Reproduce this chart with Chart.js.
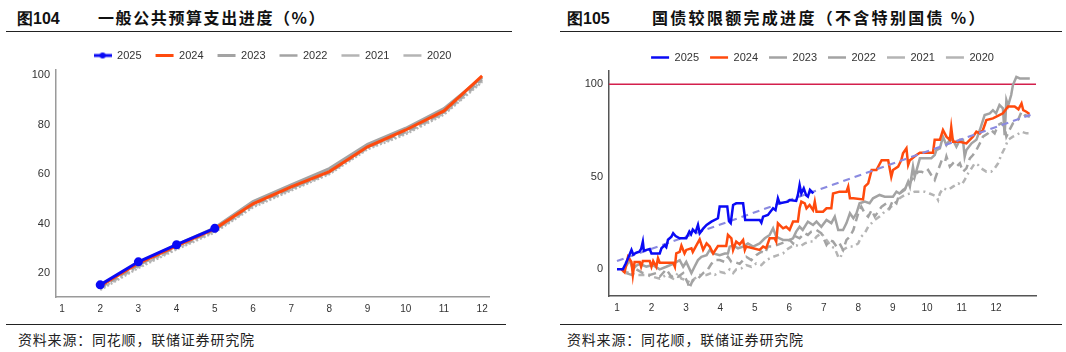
<!DOCTYPE html>
<html>
<head>
<meta charset="utf-8">
<script src="https://cdn.jsdelivr.net/npm/chart.js@4.4.0/dist/chart.umd.min.js"></script>
<style>
  body { margin: 0; width: 1066px; height: 352px; background: #fff; position: relative; overflow: hidden; font-family: "Noto Sans CJK SC", sans-serif; }
  .ttl { position: absolute; top: 5px; font-size: 16px; font-weight: 700; color: #111; white-space: nowrap; }
  .ttl .no { font-family: Arial, "Liberation Sans", sans-serif; display: inline-block; }
  .rule { position: absolute; height: 0; border-top: 1.5px solid #222; }
  .src { position: absolute; top: 329px; font-size: 14px; color: #222; letter-spacing: 0.8px; white-space: nowrap; }
  canvas { position: absolute; }
</style>
</head>
<body>
<div class="ttl" style="left:17px"><span class="no">图104</span><span style="position:absolute;left:81px;letter-spacing:1.6px">一般公共预算支出进度（%）</span></div>
<div class="rule" style="left:6px;width:506px;top:31px"></div>
<div class="ttl" style="left:567px"><span class="no">图105</span><span style="position:absolute;left:85px;letter-spacing:2.3px">国债较限额完成进度（不含特别国债 %）</span></div>
<div class="rule" style="left:560px;width:502px;top:31px"></div>
<div class="rule" style="left:6px;width:500px;top:324px"></div>
<div class="rule" style="left:560px;width:502px;top:324px"></div>
<div class="src" style="left:18px">资料来源：同花顺，联储证券研究院</div>
<div class="src" style="left:567px">资料来源：同花顺，联储证券研究院</div>

<canvas id="chartBudget" style="left:0px;top:36px" width="500" height="279"></canvas>
<canvas id="chartDebt" style="left:560px;top:41px" width="486" height="273"></canvas>

<script>
// ─── DATA: 图104 一般公共预算支出进度 ─────────────────────
const months = [1, 2, 3, 4, 5, 6, 7, 8, 9, 10, 11, 12];
const budgetMonths = [2, 3, 4, 5, 6, 7, 8, 9, 10, 11, 12];
const b2025 = [15.3, 24.6, 31.5, 38.1];
const b2024 = [14.9, 24.0, 31.0, 37.9, 48.0, 54.8, 61.0, 71.0, 77.8, 85.5, 99.6];
const b2023 = [15.0, 24.2, 31.4, 38.3, 48.9, 55.6, 62.2, 72.0, 78.5, 86.4, 99.0];
const b2022 = [14.2, 23.2, 30.6, 37.3, 47.6, 54.2, 60.8, 71.0, 77.0, 85.0, 98.2];
const b2021 = [13.8, 22.6, 30.1, 36.9, 47.1, 53.8, 60.4, 70.5, 76.6, 84.5, 97.6];
const b2020 = [13.3, 22.1, 29.6, 36.5, 46.6, 53.4, 60.0, 70.0, 76.1, 84.0, 97.2];
const budgetTicks = [20, 40, 60, 80, 100];

// ─── DATA: 图105 国债较限额完成进度 ([月份, %]) ───────────
const d2025 = [[1,0],[1.17,0],[1.25,3],[1.32,6],[1.42,10.5],[1.47,8],[1.56,9],[1.65,9.5],[1.7,11],[1.75,15],[1.78,10],[1.86,10.5],[1.95,11],[2.0,8.6],[2.24,8.6],[2.29,11.4],[2.38,13],[2.43,12],[2.48,16],[2.58,17.7],[2.63,19.5],[2.7,18],[2.82,16.8],[3.01,16.8],[3.1,20.4],[3.15,19],[3.2,21.5],[3.28,20],[3.35,24],[3.4,19.5],[3.5,22],[3.6,24],[3.74,25.8],[3.93,27.6],[3.98,34],[4.2,34],[4.25,26],[4.3,25],[4.37,34.8],[4.46,35.7],[4.66,35.7],[4.72,26.7],[5.14,26.7],[5.19,25.2],[5.24,28.5],[5.38,29.4],[5.53,33],[5.6,32],[5.67,38.4],[5.72,35.7],[5.96,36.6],[6.01,37.5],[6.2,37],[6.25,40.2],[6.3,45.6],[6.35,41],[6.42,43.8],[6.49,40],[6.54,39.3],[6.6,42.9],[6.7,41]];
const d2024 = [[1.13,0],[1.22,-1.6],[1.32,6.8],[1.42,4],[1.46,-3],[1.51,4],[1.66,4],[1.7,1.4],[1.75,4.5],[1.95,4.5],[2.0,1.4],[2.05,4.5],[2.14,1.4],[2.19,6],[2.24,3.6],[2.63,3.6],[2.68,1.4],[2.72,8.6],[2.82,9.5],[2.87,12.8],[2.96,8.6],[3.01,10.5],[3.16,11.4],[3.2,9.4],[3.3,12.8],[3.4,16.2],[3.5,10.5],[3.6,14],[3.69,12.3],[3.79,8.6],[3.93,12.6],[4.17,12.6],[4.22,18.6],[4.32,16.8],[4.37,10.5],[4.46,15],[4.56,13.5],[4.66,15.9],[4.71,10.5],[4.75,12.3],[5.14,10.5],[5.24,12.3],[5.33,11.5],[5.43,16.8],[5.57,16.8],[5.62,15],[5.67,24.9],[5.82,22.2],[5.91,23],[6.01,21.3],[6.11,25.8],[6.25,25.8],[6.3,33],[6.35,36.6],[6.45,35.7],[6.5,33],[6.59,34.8],[6.69,32],[6.74,36.6],[6.79,31.2],[6.98,31.2],[7.08,33],[7.22,33],[7.27,41],[7.46,42],[7.66,42],[7.71,44.7],[7.76,38.4],[7.86,38.4],[8.14,37.8],[8.19,44.7],[8.29,46.5],[8.39,53.7],[8.53,53.7],[8.68,59],[8.87,59],[8.96,50],[9.01,53.7],[9.16,55.5],[9.25,59],[9.3,62.7],[9.4,65.4],[9.45,56.4],[9.5,59],[9.69,61.8],[9.79,63],[10.17,63],[10.22,70],[10.37,70],[10.46,75.3],[10.56,71.7],[10.66,70],[10.7,76.8],[10.75,69],[10.95,69],[11.14,68.1],[11.24,70],[11.33,71.7],[11.43,74.4],[11.53,73.5],[11.62,75.3],[11.72,80.7],[11.91,81.6],[12.01,82.5],[12.2,84.3],[12.35,88],[12.54,88],[12.65,86.5],[12.74,89.7],[12.79,86],[12.88,85.2],[12.97,84]];
const d2023 = [[1.17,0],[1.27,2],[1.37,5],[1.46,0],[1.56,2],[1.66,3],[1.85,1.5],[2.04,2.3],[2.24,0],[2.43,1.4],[2.63,3],[2.82,5],[2.92,1.4],[3.01,4],[3.16,-2],[3.25,1.4],[3.35,5],[3.45,6.8],[3.6,7.7],[3.69,10.5],[3.79,8.6],[3.98,7.7],[4.13,8.6],[4.22,8.6],[4.27,12.3],[4.37,13],[4.51,11.4],[4.66,12.3],[4.8,14],[4.95,12.3],[5.14,14],[5.29,16.8],[5.43,18.6],[5.53,22.2],[5.62,17.7],[5.72,16.8],[5.82,15.9],[6.01,15.9],[6.11,16.8],[6.2,20.4],[6.3,23],[6.39,21.3],[6.54,25.8],[6.69,24],[6.79,25.8],[6.93,23],[7.08,26.7],[7.22,25],[7.32,28.5],[7.42,21.3],[7.56,21.3],[7.66,25],[7.76,30.3],[7.86,27.6],[7.95,30.3],[8.04,35.7],[8.19,36.6],[8.33,35.7],[8.43,38.4],[8.62,40.2],[8.77,39.3],[9.01,39.3],[9.11,42],[9.2,41],[9.35,42.9],[9.45,47.4],[9.5,44.7],[9.59,55.5],[9.64,50],[9.79,60],[10.12,60],[10.22,61.8],[10.27,64.5],[10.37,65.4],[10.46,71.7],[10.56,67.2],[10.66,70],[10.75,70],[10.85,66.3],[10.95,70],[11.04,70],[11.09,60.9],[11.14,64.5],[11.29,68.1],[11.43,70],[11.53,75.3],[11.67,83.4],[11.82,84.3],[11.91,86],[12.0,84.3],[12.1,88.8],[12.2,87],[12.25,72.5],[12.3,91.5],[12.35,88.5],[12.44,94.2],[12.49,99.6],[12.59,104],[12.69,103.2],[12.98,103.2]];
const d2022 = [[1.27,-2],[1.42,-3],[1.56,0],[1.75,-2],[1.95,-3],[2.14,-2],[2.24,-4],[2.43,0],[2.58,-4],[2.68,-3],[2.77,-4],[2.92,-2],[3.06,-7.6],[3.1,-10.3],[3.2,-5.8],[3.35,-5],[3.5,-2],[3.64,0],[3.74,3],[3.84,5],[3.98,5],[4.13,4],[4.22,6.8],[4.32,4],[4.41,4],[4.56,3],[4.66,5],[4.75,6.8],[4.9,5],[5.04,7.7],[5.19,9.5],[5.29,8.6],[5.38,12.3],[5.53,12.3],[5.62,13],[5.77,14],[5.91,15],[6.01,15.9],[6.11,14],[6.2,17.7],[6.3,16.8],[6.45,19.5],[6.54,18.6],[6.64,20.4],[6.79,21.3],[6.93,19.5],[7.08,13.2],[7.17,15.9],[7.27,15],[7.37,12.3],[7.46,14],[7.56,10.5],[7.66,15.9],[7.76,17.7],[7.86,21.3],[8.0,30.3],[8.09,33.9],[8.19,30.3],[8.29,28.5],[8.39,32],[8.48,28.5],[8.58,31.2],[8.68,33.9],[8.82,35.7],[8.91,33],[9.01,37.5],[9.11,35.7],[9.2,41],[9.3,42.9],[9.45,44.7],[9.55,48.3],[9.64,50],[9.74,52.8],[9.84,52.8],[9.93,51.9],[10.03,53.7],[10.12,51],[10.22,48.3],[10.32,53.7],[10.41,58.2],[10.51,57.3],[10.56,61],[10.66,55.5],[10.75,57.3],[10.85,55.5],[10.95,57.3],[11.04,52.8],[11.14,54.6],[11.24,60],[11.33,61.8],[11.43,64.5],[11.53,68.1],[11.62,71.7],[11.77,73.5],[11.86,75.3],[11.96,73.5],[12.06,78],[12.15,78.9],[12.25,77],[12.3,71.7],[12.39,75.3],[12.49,78.9],[12.64,80.7],[12.74,85.2],[12.83,83.4],[12.98,82.5]];
const d2021 = [[1.17,-1],[1.37,-2],[1.61,-3],[1.85,-3],[2.04,-4],[2.24,-5],[2.43,-3],[2.63,-5],[2.77,-2],[2.87,-5],[3.01,-5.8],[3.16,-7.6],[3.25,-5],[3.4,-3],[3.6,-3],[3.74,-2],[3.84,-3],[3.98,-1.3],[4.13,-2],[4.27,0],[4.37,-2],[4.46,0],[4.61,0.5],[4.75,2.3],[4.9,1.4],[5.04,3.2],[5.19,2.3],[5.33,5],[5.53,6.8],[5.67,7.7],[5.82,8.6],[5.91,10.5],[6.06,12.3],[6.2,13],[6.3,12.3],[6.45,14],[6.59,15],[6.69,15],[6.79,17.7],[6.93,19.5],[7.08,15.9],[7.22,12.3],[7.32,11.4],[7.42,6.8],[7.48,6],[7.56,10.5],[7.71,12.3],[7.86,12.3],[8.0,14],[8.09,17.7],[8.19,19.5],[8.29,23],[8.39,25],[8.48,26.7],[8.62,28.5],[8.77,31.2],[8.91,33],[9.06,35.7],[9.2,38.4],[9.35,40.2],[9.5,41],[9.64,42],[9.93,42],[10.07,41],[10.17,40.2],[10.27,39.3],[10.32,37.5],[10.37,41],[10.46,43.8],[10.61,42.9],[10.75,44.7],[10.9,46.5],[11.0,45.6],[11.09,48.3],[11.19,51.9],[11.29,54.6],[11.38,57.3],[11.48,56.4],[11.57,54.6],[11.72,52.8],[11.86,52.8],[11.96,54.6],[12.06,57.3],[12.15,61.8],[12.25,65.4],[12.35,70],[12.49,71.7],[12.59,72.5],[12.74,74.4],[12.88,73.5],[12.98,73.5]];
const d2020 = [];
const trend2025 = [[1, 4.5], [13, 83.5]];
const debtLimit = 100;
const debtTicks = [0, 50, 100];

// ─── STYLE ────────────────────────────────────────────────
const BLUE = '#0a0af5', ORANGE = '#ff4a0d', GRAY = '#a3a3a3', GRAY2 = '#b4b4b4';
Chart.defaults.font.family = 'Arial, "Liberation Sans", sans-serif';
Chart.defaults.color = '#333';

const xy = (arr) => arr.map(p => ({ x: p[0], y: p[1] }));
const byMonth = (mm, vals) => vals.map((v, i) => ({ x: mm[i], y: v }));

function lineDs(label, data, color, dash, width) {
  return {
    label, data,
    borderColor: color, backgroundColor: color,
    borderWidth: width, borderDash: dash,
    pointRadius: 0, tension: 0, fill: false,
  };
}

// legend marker for a line with a dot
function dotLine(color) {
  const c = document.createElement('canvas');
  c.width = 18; c.height = 8;
  const g = c.getContext('2d');
  g.strokeStyle = color; g.lineWidth = 3;
  g.beginPath(); g.moveTo(0, 4); g.lineTo(18, 4); g.stroke();
  g.fillStyle = color; g.beginPath(); g.arc(9, 4, 3, 0, Math.PI * 2); g.fill();
  return c;
}

function legendOpts(pad, first) {
  return {
    position: 'top',
    fullSize: false,
    labels: {
      usePointStyle: true, pointStyleWidth: 18, padding: pad,
      color: '#333', font: { size: 11 },
      filter: (it) => it.text !== '',
      generateLabels: (chart) => Chart.defaults.plugins.legend.labels.generateLabels(chart).map(it => {
        it.pointStyle = (first && it.datasetIndex === 0) ? first : 'line';
        return it;
      }),
    },
  };
}

// fixes legend height so the plot area lands where it should
function legendHeight(h) {
  return {
    id: 'legendHeight',
    afterInit(chart) {
      const lg = chart.legend, fit = lg.fit;
      lg.fit = function () { fit.call(this); this.height = h; };
    },
  };
}

const limitLine = {
  id: 'limitLine',
  beforeDatasetsDraw(chart) {
    const { ctx, chartArea, scales: { y } } = chart;
    const py = y.getPixelForValue(debtLimit);
    ctx.save();
    ctx.strokeStyle = '#d31f4c'; ctx.lineWidth = 1.5;
    ctx.beginPath(); ctx.moveTo(chartArea.left, py); ctx.lineTo(chartArea.right, py); ctx.stroke();
    ctx.restore();
  },
};

function axis(min, max, ticks, axisColor, fixed, fontSize) {
  return {
    type: 'linear', min, max,
    grid: { display: false, drawTicks: true, tickLength: 4, tickColor: axisColor },
    border: { display: true, color: axisColor, width: 1.5 },
    ticks: { padding: 2, font: { size: fontSize }, color: '#333' },
    afterBuildTicks: (s) => { s.ticks = ticks.map(v => ({ value: v })); },
    afterFit: (s) => { if (fixed.w) s.width = fixed.w; if (fixed.h) s.height = fixed.h; },
  };
}

// ─── CHART: 图104 ─────────────────────────────────────────
new Chart(document.getElementById('chartBudget'), {
  type: 'line',
  data: {
    datasets: [
      { ...lineDs('2025', byMonth(budgetMonths, b2025), BLUE, [], 3), pointRadius: 3, pointBackgroundColor: BLUE },
      lineDs('2024', byMonth(budgetMonths, b2024), ORANGE, [], 3),
      lineDs('2023', byMonth(budgetMonths, b2023), GRAY, [], 3),
      lineDs('2022', byMonth(budgetMonths, b2022), GRAY, [8, 4], 2.5),
      lineDs('2021', byMonth(budgetMonths, b2021), GRAY2, [6, 3, 2, 3], 2.5),
      lineDs('2020', byMonth(budgetMonths, b2020), GRAY2, [2, 2], 2.5),
    ],
  },
  options: {
    responsive: false, animation: false,
    layout: { padding: { left: 0, right: 11, top: 0, bottom: 0 } },
    plugins: { legend: legendOpts(14, dotLine(BLUE)), tooltip: { enabled: false } },
    scales: {
      x: axis(0.843, 12.18, months, '#9a9a9a', { h: 18 }, 10),
      y: axis(10.4, 102, budgetTicks, '#9a9a9a', { w: 56 }, 11),
    },
  },
  plugins: [legendHeight(34)],
});

// ─── CHART: 图105 ─────────────────────────────────────────
new Chart(document.getElementById('chartDebt'), {
  type: 'line',
  data: {
    datasets: [
      lineDs('2025', xy(d2025), BLUE, [], 2.5),
      lineDs('', xy(trend2025), '#8a8ae0', [7, 5], 2.2),
      lineDs('2024', xy(d2024), ORANGE, [], 2.5),
      lineDs('2023', xy(d2023), GRAY, [], 2.5),
      lineDs('2022', xy(d2022), GRAY, [8, 5], 2.5),
      lineDs('2021', xy(d2021), GRAY2, [6, 4, 2, 4], 2.5),
      lineDs('2020', xy(d2020), GRAY2, [2, 2], 2.5),
    ],
  },
  options: {
    responsive: false, animation: false,
    layout: { padding: { left: 0, right: 10, top: 0, bottom: 0 } },
    plugins: { legend: legendOpts(11, null), tooltip: { enabled: false } },
    scales: {
      x: axis(0.768, 13.16, months, '#555', { h: 18 }, 10),
      y: axis(-14.4, 107.2, debtTicks, '#555', { w: 49 }, 11),
    },
  },
  plugins: [limitLine, legendHeight(30)],
});
</script>
</body>
</html>
